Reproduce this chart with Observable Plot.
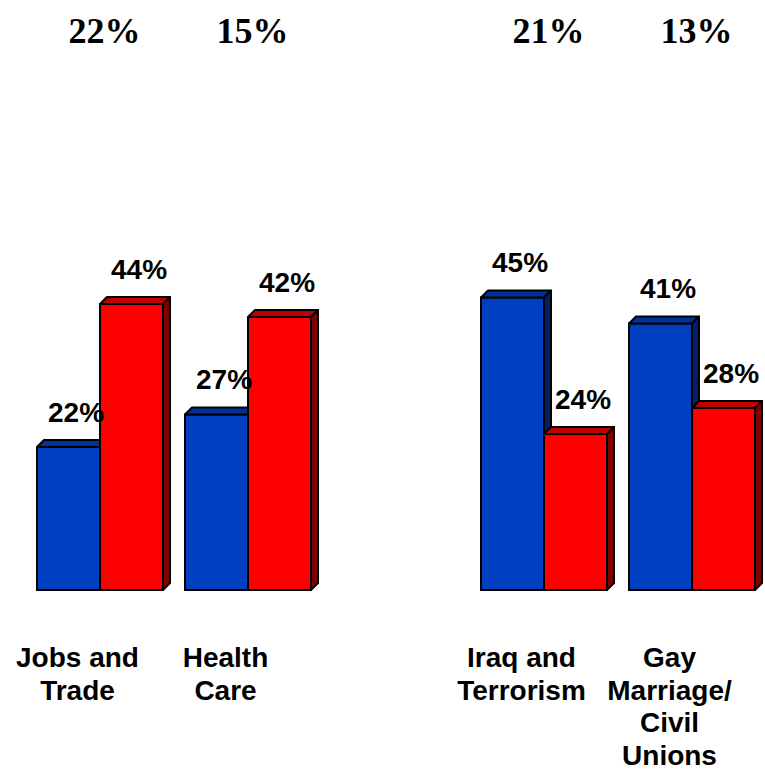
<!DOCTYPE html>
<html>
<head>
<meta charset="utf-8">
<script src="https://cdn.jsdelivr.net/npm/d3@7"></script>
<script src="https://cdn.jsdelivr.net/npm/@observablehq/plot@0.6"></script>
<style>
  html, body { margin: 0; padding: 0; background: #ffffff; }
  #chart svg { display: block; }
</style>
</head>
<body>
<div id="chart"></div>
<script>
// ---- data ----
const categories = ["Jobs and\nTrade", "Health\nCare", "Iraq and\nTerrorism", "Gay\nMarriage/\nCivil\nUnions"];
const groupShares = [22, 15, 21, 13];
const series = ["Kerry", "Bush"];
const blueValues = [22, 27, 45, 41];
const redValues = [44, 42, 24, 28];
const spacer = " ";

// ---- derived tables ----
const fxDomain = [categories[0], categories[1], spacer, categories[2], categories[3]];
const rows = [];
categories.forEach((c, i) => {
  rows.push({cat: c, party: series[0], value: blueValues[i]});
  rows.push({cat: c, party: series[1], value: redValues[i]});
});
const groups = categories.map((c, i) => ({cat: c, share: groupShares[i]}));

const frontColors = {Kerry: "#0040C0", Bush: "#FF0000"};
const topColors = {Kerry: "#003399", Bush: "#C00000"};
const sideColors = {Kerry: "#001F66", Bush: "#800000"};
const depth = 7;

function box3d(index, scales, values, dimensions, context, next) {
  const g = next(index, scales, values, dimensions, context);
  const rects = Array.from(g.querySelectorAll("rect"));
  rects.forEach((r, k) => {
    const d = rows[index[k]];
    const x = +r.getAttribute("x"), y = +r.getAttribute("y");
    const w = +r.getAttribute("width"), h = +r.getAttribute("height");
    const top = document.createElementNS("http://www.w3.org/2000/svg", "polygon");
    top.setAttribute("points", `${x},${y} ${x + depth},${y - depth} ${x + w + depth},${y - depth} ${x + w},${y}`);
    top.setAttribute("fill", topColors[d.party]);
    const side = document.createElementNS("http://www.w3.org/2000/svg", "polygon");
    side.setAttribute("points", `${x + w},${y} ${x + w + depth},${y - depth} ${x + w + depth},${y + h - depth} ${x + w},${y + h}`);
    side.setAttribute("fill", sideColors[d.party]);
    for (const p of [top, side]) {
      p.setAttribute("stroke", "#000");
      p.setAttribute("stroke-width", 2);
      p.setAttribute("stroke-linejoin", "round");
    }
    r.after(top);
    top.after(side);
  });
  return g;
}

const sans = "'Liberation Sans', Arial, sans-serif";
const serif = "'Liberation Serif', 'Times New Roman', serif";

const chart = Plot.plot({
  width: 765,
  height: 771,
  marginLeft: 35,
  marginRight: 8,
  marginTop: 70,
  marginBottom: 181,
  style: {background: "#ffffff", fontFamily: sans, overflow: "visible"},
  fx: {domain: fxDomain, paddingInner: 0.151, paddingOuter: 0, axis: null},
  x: {domain: series, padding: 0, axis: null},
  y: {domain: [0, 80], axis: null},
  color: {domain: series, range: [frontColors.Kerry, frontColors.Bush]},
  marks: [
    Plot.barY(rows, {
      fx: "cat", x: "party", y: "value", fill: "party",
      stroke: "#000", strokeWidth: 2, render: box3d
    }),
    Plot.text(rows, {
      fx: "cat", x: "party", y: "value", text: d => `${d.value}%`,
      dx: 7, dy: -26, lineAnchor: "bottom",
      fontSize: 28, fontWeight: "bold", fontFamily: sans, fill: "#000"
    }),
    Plot.text(groups, {
      fx: "cat", text: d => `${d.share}%`, frameAnchor: "top", lineAnchor: "bottom",
      dx: 4, dy: -28, fontSize: 36, fontWeight: "bold", fontFamily: serif, fill: "#000"
    }),
    Plot.text(groups, {
      fx: "cat", text: "cat", frameAnchor: "bottom", lineAnchor: "top",
      dx: -23, dy: 53, lineHeight: 1.17,
      fontSize: 28, fontWeight: "bold", fontFamily: sans, fill: "#000"
    })
  ]
});
document.getElementById("chart").appendChild(chart);
</script>
</body>
</html>
